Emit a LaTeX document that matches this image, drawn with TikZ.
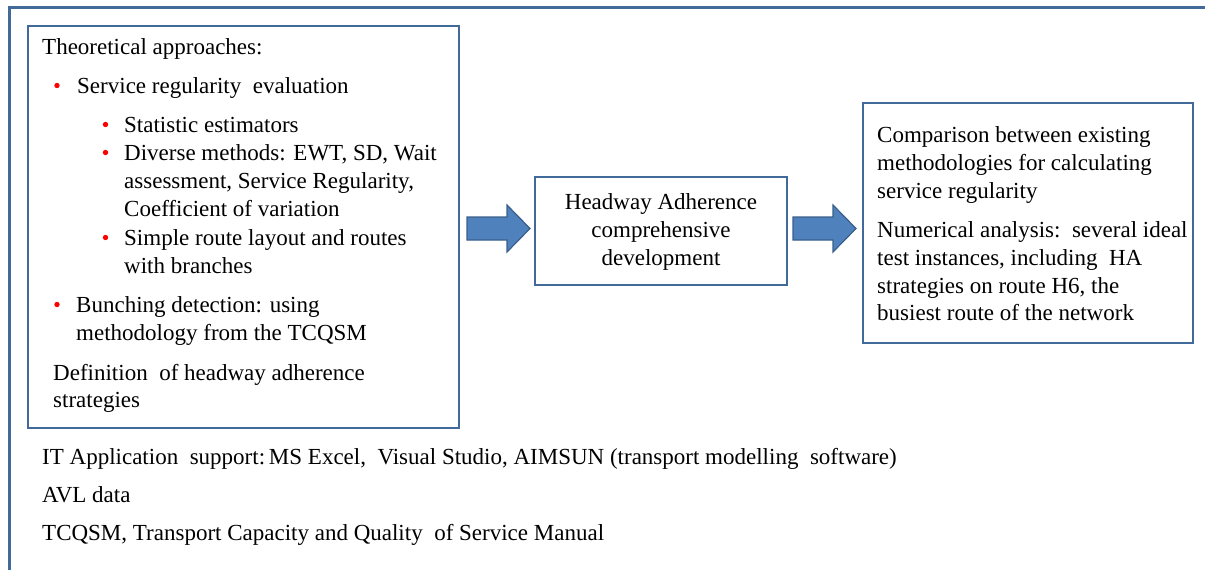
\documentclass[tikz,border=0pt]{standalone}
\usepackage{fontspec}
\setmainfont{Liberation Serif}
\definecolor{frameblue}{HTML}{41699A}
\definecolor{arrowfill}{HTML}{4F81BD}
\definecolor{arrowline}{HTML}{3A5F8B}
\definecolor{bulletred}{HTML}{FF0000}
\tikzset{
  box/.style={draw=frameblue, line width=2pt, fill=white, inner sep=0pt},
  txt/.style={anchor=base west, inner sep=0pt, font=\fontsize{23}{28}\selectfont, text=black},
  ctxt/.style={txt, anchor=base},
  bul/.style={circle, fill=bulletred, inner sep=0pt, minimum size=5.4pt},
  blockarrow/.style={fill=arrowfill, draw=arrowline, line width=1.2pt, line join=miter}
}
\begin{document}
\begin{tikzpicture}[x=1pt, y=-1pt]
\useasboundingbox (0,0) rectangle (1205,570);

% open outer frame (left and top edges)
\draw[frameblue, line width=2.6pt] (9.5,572) -- (9.5,7.5) -- (1207,7.5);

% boxes
\node[box, minimum width=431pt, minimum height=402pt] (theory) at (243.5,227) {};
\node[box, minimum width=252pt, minimum height=108pt] (ha) at (661,231) {};
\node[box, minimum width=330pt, minimum height=240pt] (results) at (1028,223) {};

% block arrows between the boxes
\filldraw[blockarrow] (467,217) -- (507,217) -- (507,205) -- (530,228.5)
  -- (507,252) -- (507,240) -- (467,240) -- cycle;
\filldraw[blockarrow] (793,217) -- (833,217) -- (833,205) -- (856,228.5)
  -- (833,252) -- (833,240) -- (793,240) -- cycle;

% theoretical approaches
\node[txt] (t0) at (42,54) {Theoretical approaches:};
\node[bul] (b1) at (57,85.5) {};
\node[txt] (t1) at (77,93) {Service regularity\ \ evaluation};
\node[bul] (b11) at (105.5,124.5) {};
\node[txt] (t11) at (124,132) {Statistic estimators};
\node[bul] (b12) at (105.5,152.5) {};
\node[txt] (t12a) at (124,160) {Diverse methods: EWT, SD, Wait};
\node[txt] (t12b) at (124,188) {assessment, Service Regularity,};
\node[txt] (t12c) at (124,216.5) {Coefficient of variation};
\node[bul] (b13) at (105.5,237.5) {};
\node[txt] (t13a) at (124,245) {Simple route layout and routes};
\node[txt] (t13b) at (124,273) {with branches};
\node[bul] (b2) at (57,304.5) {};
\node[txt] (t2a) at (76,312) {Bunching detection: using};
\node[txt] (t2b) at (76,340) {methodology from the TCQSM};
\node[txt] (t3a) at (53,380) {Definition\ \ of headway adherence};
\node[txt] (t3b) at (53,407) {strategies};

% central box
\node[ctxt] (h1) at (661,209) {Headway Adherence};
\node[ctxt] (h2) at (661,237) {comprehensive};
\node[ctxt] (h3) at (661,265) {development};

% results box
\node[txt] (r1) at (877,142) {Comparison between existing};
\node[txt] (r2) at (877,170) {methodologies for calculating};
\node[txt] (r3) at (877,198) {service regularity};
\node[txt] (r4) at (877,237) {Numerical analysis:\ \ several ideal};
\node[txt] (r5) at (877,265) {test instances, including\ \ HA};
\node[txt] (r6) at (877,293) {strategies on route H6, the};
\node[txt] (r7) at (877,320.5) {busiest route of the network};

% supporting notes
\node[txt] (s1) at (42,464) {IT Application\ \ support:\,MS Excel,\ \ Visual Studio, AIMSUN (transport modelling\ \ software)};
\node[txt] (s2) at (42,502) {AVL data};
\node[txt] (s3) at (42,540) {TCQSM, Transport Capacity and Quality\ \ of Service Manual};
\end{tikzpicture}
\end{document}
